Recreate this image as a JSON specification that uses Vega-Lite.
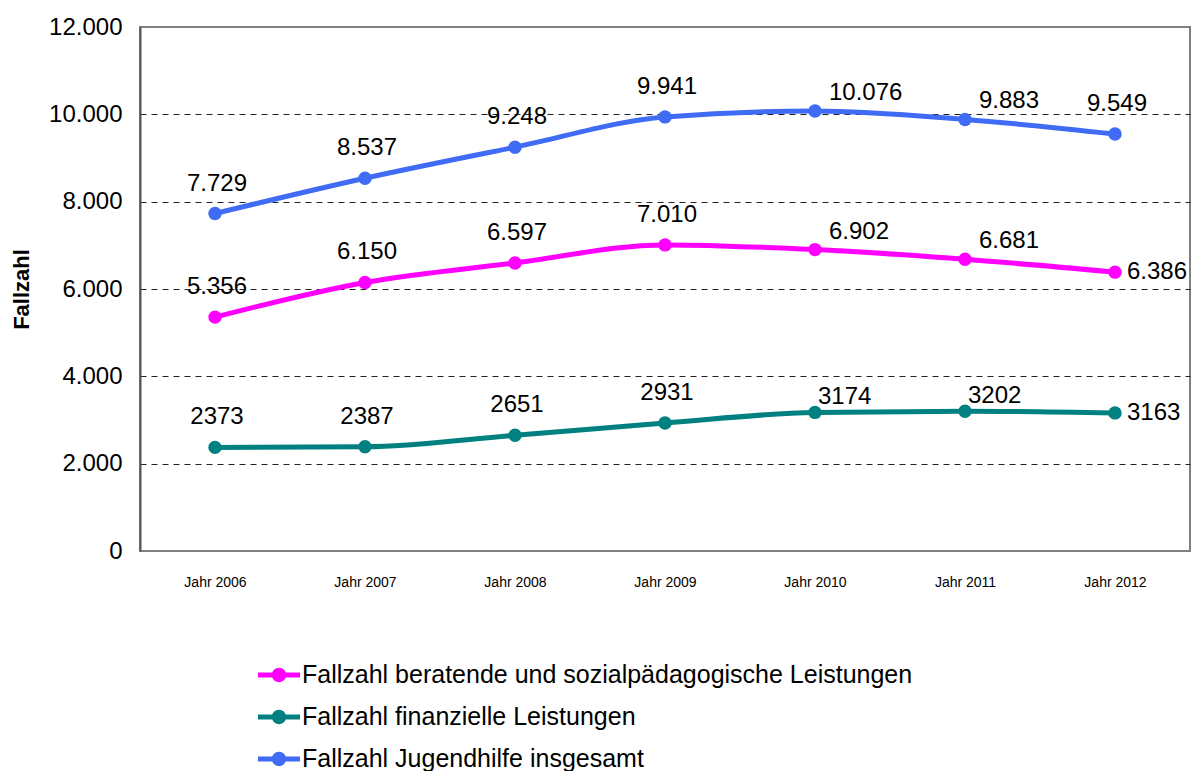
{
  "$schema": "https://vega.github.io/schema/vega-lite/v6.json",
  "width": 1050,
  "height": 524,
  "autosize": "none",
  "padding": {"left": 140, "top": 27, "right": 4, "bottom": 220},
  "background": "white",
  "config": {
    "font": "Liberation Sans",
    "view": {"stroke": "#808080", "strokeWidth": 2},
    "axis": {"labelFont": "Liberation Sans", "titleFont": "Liberation Sans"},
    "legend": {"labelFont": "Liberation Sans"}
  },
  "data": {
    "values": [
      {"series": "Fallzahl beratende und sozialpädagogische Leistungen", "year": "Jahr 2006", "value": 5356, "label": "5.356"},
      {"series": "Fallzahl beratende und sozialpädagogische Leistungen", "year": "Jahr 2007", "value": 6150, "label": "6.150"},
      {"series": "Fallzahl beratende und sozialpädagogische Leistungen", "year": "Jahr 2008", "value": 6597, "label": "6.597"},
      {"series": "Fallzahl beratende und sozialpädagogische Leistungen", "year": "Jahr 2009", "value": 7010, "label": "7.010"},
      {"series": "Fallzahl beratende und sozialpädagogische Leistungen", "year": "Jahr 2010", "value": 6902, "label": "6.902"},
      {"series": "Fallzahl beratende und sozialpädagogische Leistungen", "year": "Jahr 2011", "value": 6681, "label": "6.681"},
      {"series": "Fallzahl beratende und sozialpädagogische Leistungen", "year": "Jahr 2012", "value": 6386, "label": "6.386"},
      {"series": "Fallzahl finanzielle Leistungen", "year": "Jahr 2006", "value": 2373, "label": "2373"},
      {"series": "Fallzahl finanzielle Leistungen", "year": "Jahr 2007", "value": 2387, "label": "2387"},
      {"series": "Fallzahl finanzielle Leistungen", "year": "Jahr 2008", "value": 2651, "label": "2651"},
      {"series": "Fallzahl finanzielle Leistungen", "year": "Jahr 2009", "value": 2931, "label": "2931"},
      {"series": "Fallzahl finanzielle Leistungen", "year": "Jahr 2010", "value": 3174, "label": "3174"},
      {"series": "Fallzahl finanzielle Leistungen", "year": "Jahr 2011", "value": 3202, "label": "3202"},
      {"series": "Fallzahl finanzielle Leistungen", "year": "Jahr 2012", "value": 3163, "label": "3163"},
      {"series": "Fallzahl Jugendhilfe insgesamt", "year": "Jahr 2006", "value": 7729, "label": "7.729"},
      {"series": "Fallzahl Jugendhilfe insgesamt", "year": "Jahr 2007", "value": 8537, "label": "8.537"},
      {"series": "Fallzahl Jugendhilfe insgesamt", "year": "Jahr 2008", "value": 9248, "label": "9.248"},
      {"series": "Fallzahl Jugendhilfe insgesamt", "year": "Jahr 2009", "value": 9941, "label": "9.941"},
      {"series": "Fallzahl Jugendhilfe insgesamt", "year": "Jahr 2010", "value": 10076, "label": "10.076"},
      {"series": "Fallzahl Jugendhilfe insgesamt", "year": "Jahr 2011", "value": 9883, "label": "9.883"},
      {"series": "Fallzahl Jugendhilfe insgesamt", "year": "Jahr 2012", "value": 9549, "label": "9.549"}
    ]
  },
  "encoding": {
    "x": {
      "field": "year", "type": "ordinal",
      "scale": {"type": "point", "padding": 0.5},
      "axis": {
        "title": null, "labelAngle": 0, "ticks": false, "domain": false,
        "labelFontSize": 14, "labelPadding": 24, "labelColor": "#000000"
      }
    },
    "y": {
      "field": "value", "type": "quantitative",
      "scale": {"domain": [0, 12000], "nice": false},
      "axis": {
        "title": "Fallzahl", "titleFontSize": 22, "titleFontWeight": "bold", "titleColor": "#000000",
        "titlePadding": 15,
        "values": [0, 2000, 4000, 6000, 8000, 10000, 12000],
        "labelExpr": "replace(format(datum.value, ','), ',', '.')",
        "labelFontSize": 24, "labelColor": "#000000", "labelPadding": 18,
        "ticks": false, "domainColor": "#555555", "domainWidth": 2,
        "grid": true, "gridColor": "#222222", "gridDash": [6, 5], "gridWidth": 1,
        "gridOpacity": {"condition": {"test": "datum.value == 0 || datum.value == 12000", "value": 0}, "value": 1}
      }
    }
  },
  "layer": [
    {
      "mark": {"type": "line", "interpolate": "monotone", "strokeWidth": 5},
      "encoding": {
        "color": {
          "field": "series", "type": "nominal",
          "scale": {
            "domain": ["Fallzahl beratende und sozialpädagogische Leistungen", "Fallzahl finanzielle Leistungen", "Fallzahl Jugendhilfe insgesamt"],
            "range": ["#FF00FF", "#008080", "#3F6BF5"]
          },
          "legend": {
            "title": null, "orient": "none", "legendX": 118, "legendY": 627,
            "direction": "vertical", "padding": 0, "rowPadding": 8,
            "symbolType": "M-1,-0.12H-0.3V0.12H-1Z M0.3,-0.12H1V0.12H0.3Z M-0.34,0A0.34,0.34 0 1,1 0.34,0A0.34,0.34 0 1,1 -0.34,0Z",
            "symbolSize": 1764, "symbolStrokeWidth": 0,
            "labelFontSize": 25, "labelColor": "#000000", "labelOffset": 2, "labelLimit": 800
          }
        }
      }
    },
    {
      "mark": {"type": "point", "filled": true, "opacity": 1, "size": 180},
      "encoding": {"color": {"field": "series", "type": "nominal"}}
    },
    {
      "transform": [{"filter": "indexof(['Jahr 2006','Jahr 2007','Jahr 2008','Jahr 2009'], datum.year) >= 0 || (datum.year == 'Jahr 2012' && datum.series == 'Fallzahl Jugendhilfe insgesamt')"}],
      "mark": {"type": "text", "fontSize": 24, "dy": -30, "dx": 2, "color": "#000000", "baseline": "middle", "align": "center"},
      "encoding": {"text": {"field": "label"}}
    },
    {
      "transform": [{"filter": "(datum.year == 'Jahr 2010' || datum.year == 'Jahr 2011') && datum.series != 'Fallzahl finanzielle Leistungen'"}],
      "mark": {"type": "text", "fontSize": 24, "dy": -18, "dx": 14, "color": "#000000", "baseline": "middle", "align": "left"},
      "encoding": {"text": {"field": "label"}}
    },
    {
      "transform": [{"filter": "(datum.year == 'Jahr 2010' || datum.year == 'Jahr 2011') && datum.series == 'Fallzahl finanzielle Leistungen'"}],
      "mark": {"type": "text", "fontSize": 24, "dy": -15, "dx": 3, "color": "#000000", "baseline": "middle", "align": "left"},
      "encoding": {"text": {"field": "label"}}
    },
    {
      "transform": [{"filter": "datum.year == 'Jahr 2012' && datum.series != 'Fallzahl Jugendhilfe insgesamt'"}],
      "mark": {"type": "text", "fontSize": 24, "dy": 0, "dx": 12, "color": "#000000", "baseline": "middle", "align": "left"},
      "encoding": {"text": {"field": "label"}}
    }
  ]
}
